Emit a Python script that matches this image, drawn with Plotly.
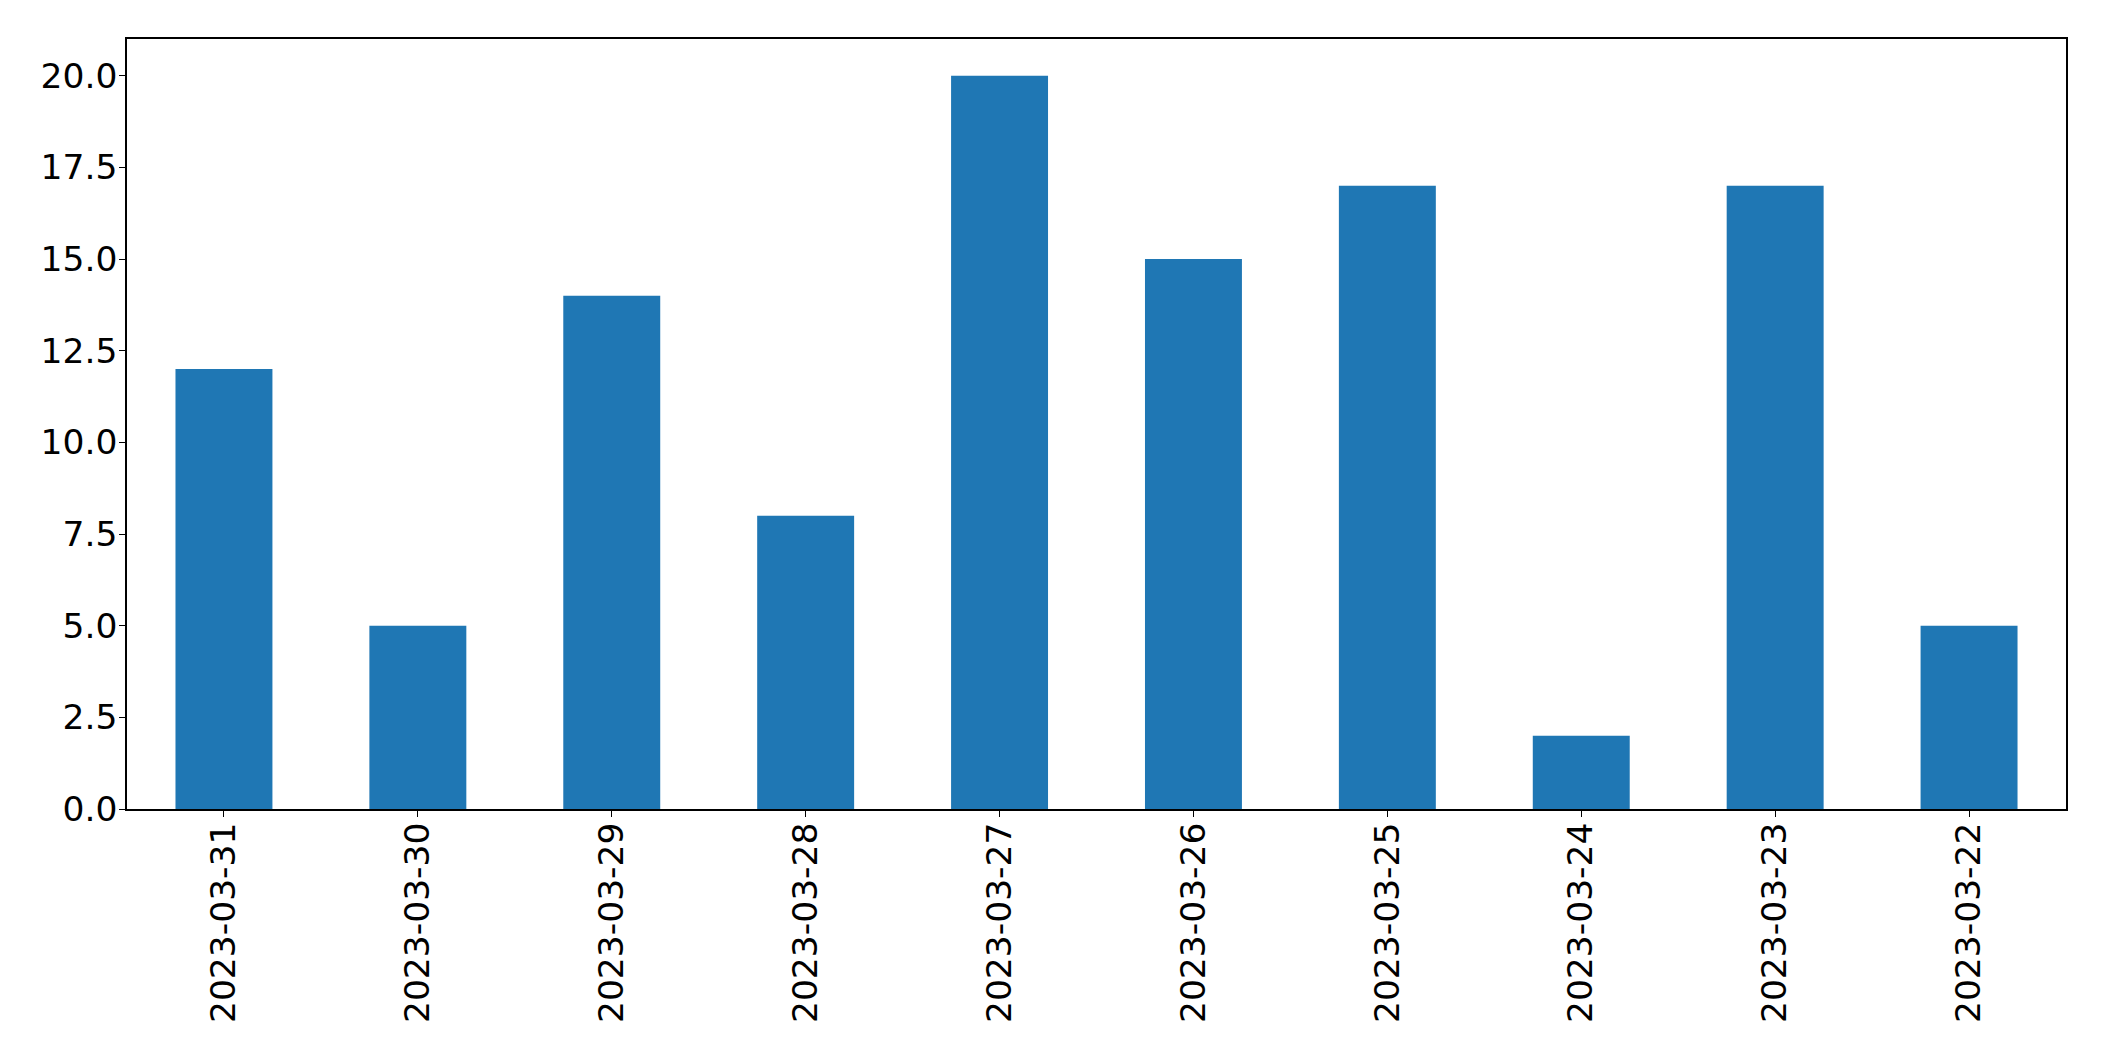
import plotly.graph_objects as go

dates = ["2023-03-31", "2023-03-30", "2023-03-29", "2023-03-28", "2023-03-27",
         "2023-03-26", "2023-03-25", "2023-03-24", "2023-03-23", "2023-03-22"]
counts = [12, 5, 14, 8, 20, 15, 17, 2, 17, 5]
y_ticks = [0, 2.5, 5, 7.5, 10, 12.5, 15, 17.5, 20]
y_tick_text = ["0.0", "2.5", "5.0", "7.5", "10.0", "12.5", "15.0", "17.5", "20.0"]

fig = go.Figure(go.Bar(x=dates, y=counts, marker=dict(color="#1f77b4", line=dict(width=0)), width=0.5))

fig.update_layout(
    width=2104, height=1061,
    margin=dict(l=127, r=38, t=39, b=252),
    paper_bgcolor="white", plot_bgcolor="white",
    font=dict(family="DejaVu Sans", size=34.5, color="black"),
    showlegend=False,
    bargap=0.5,
)
fig.update_xaxes(
    type="category", range=[-0.5, 9.5], tickangle=-90,
    showline=True, linecolor="black", linewidth=1.5, mirror=True,
    ticks="outside", ticklen=6, tickwidth=1.3, tickcolor="black",
    showgrid=False, zeroline=False, ticklabelstandoff=-8,
)
fig.update_yaxes(
    range=[0, 21], tickvals=y_ticks, ticktext=y_tick_text,
    showline=True, linecolor="black", linewidth=1.5, mirror=True,
    ticks="outside", ticklen=6, tickwidth=1.3, tickcolor="black",
    showgrid=False, zeroline=False, ticklabelstandoff=-5,
)
fig.write_html("out.html")
